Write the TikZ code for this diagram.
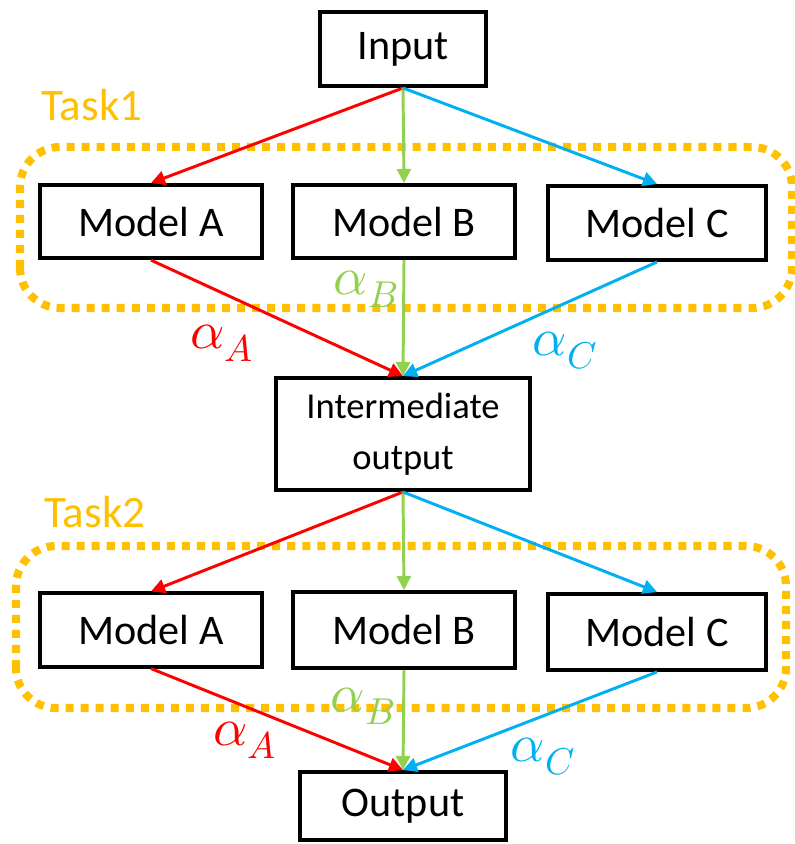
\documentclass[tikz,border=0pt]{standalone}
\usepackage{fontspec}
\usepackage{unicode-math}
\setmainfont{Carlito}
\setmathfont{Latin Modern Math}
\usetikzlibrary{arrows.meta}
\definecolor{wred}{HTML}{FF0000}
\definecolor{wgreen}{HTML}{92D050}
\definecolor{wblue}{HTML}{00B0F0}
\definecolor{taskorange}{HTML}{FFC000}

\begin{document}
\begin{tikzpicture}[
	box/.style={draw,line width=2.8pt,minimum width=5.55cm,minimum height=1.83cm,
		font=\fontsize{30}{36}\selectfont},
	taskbox/.style={draw=taskorange,line width=5.7pt,dash pattern=on 5.7pt off 5pt,rounded corners=1cm},
	tasklabel/.style={text=taskorange,font=\fontsize{32}{38}\selectfont},
	link/.style={line width=2.1pt,arrows={-{Triangle[length=10pt,width=10pt]}}},
	weight/.style={font=\fontsize{38}{44}\selectfont}]
	\useasboundingbox (0,0) rectangle (19.85,21.1);

	% task frames
	\draw[taskbox] (0.5,13.4) rectangle (19.8,17.425);
	\node[tasklabel] (task1) at (2.3,18.475) {Task1};
	\draw[taskbox] (0.4,3.4) rectangle (19.65,7.45);
	\node[tasklabel] (task2) at (2.375,8.3) {Task2};

	% first stage
	\node[box,minimum width=4.15cm,minimum height=1.85cm] (input) at (10.075,19.875) {Input};
	\node[box] (modelA) at (3.775,15.56) {Model A};
	\node[box] (modelB) at (10.1,15.56) {Model B};
	\node[box,minimum width=5.45cm,minimum height=1.85cm] (modelC) at (16.425,15.525) {Model C};
	\node[box,minimum width=6.35cm,minimum height=2.8cm,align=center,
		font=\fontsize{26}{36}\selectfont] (inter) at (10.075,10.25) {Intermediate\\output};

	\draw[link,wred] (input.south) -- (modelA.north);
	\draw[link,wgreen] (input.south) -- (modelB.north);
	\draw[link,wblue] (input.south) -- (modelC.north);
	\draw[link,wred] (modelA.south) -- (inter.north);
	\draw[link,wgreen] (modelB.south) -- (inter.north);
	\draw[link,wblue] (modelC.south) -- (inter.north);
	\node[weight,text=wred] (wA1) at (5.55,12.525) {$\alpha_A$};
	\node[weight,text=wgreen] (wB1) at (9.15,13.875) {$\alpha_B$};
	\node[weight,text=wblue] (wC1) at (14.125,12.325) {$\alpha_C$};

	% second stage
	\node[box] (modelA2) at (3.775,5.35) {Model A};
	\node[box,minimum height=1.9cm] (modelB2) at (10.1,5.35) {Model B};
	\node[box,minimum width=5.45cm,minimum height=1.9cm] (modelC2) at (16.425,5.3) {Model C};
	\node[box,minimum width=5.15cm,minimum height=1.7cm] (output) at (10.075,0.95) {Output};

	\draw[link,wred] (inter.south) -- (modelA2.north);
	\draw[link,wgreen] (inter.south) -- (modelB2.north);
	\draw[link,wblue] (inter.south) -- (modelC2.north);
	\draw[link,wred] (modelA2.south) -- (output.north);
	\draw[link,wgreen] (modelB2.south) -- (output.north);
	\draw[link,wblue] (modelC2.south) -- (output.north);
	\node[weight,text=wred] (wA2) at (6.125,2.6) {$\alpha_A$};
	\node[weight,text=wgreen] (wB2) at (9.075,3.45) {$\alpha_B$};
	\node[weight,text=wblue] (wC2) at (13.575,2.175) {$\alpha_C$};
\end{tikzpicture}
\end{document}
